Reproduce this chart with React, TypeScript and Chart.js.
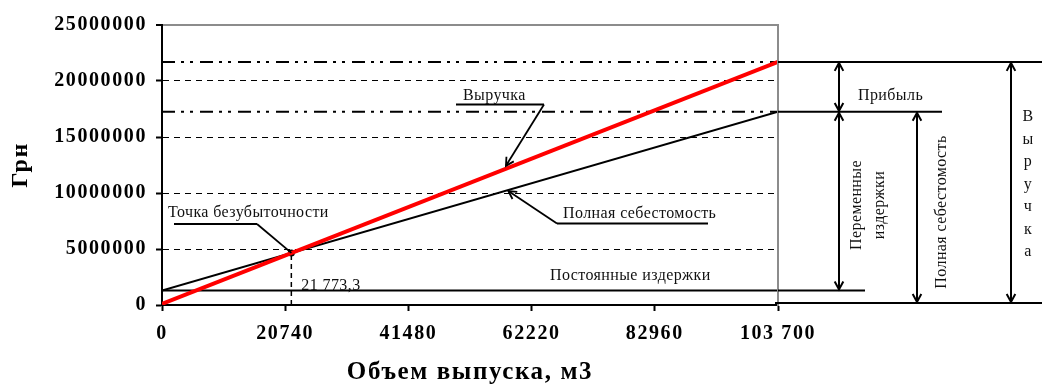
import React, { useEffect, useRef } from "react";
import { Chart, registerables } from "chart.js";

Chart.register(...registerables);

// ---- data ----
const xTicks = [0, 20740, 41480, 62220, 82960, 103700];
const xTickLabels = ["0", "20740", "41480", "62220", "82960", "103 700"];
const yTicks = [0, 5000000, 10000000, 15000000, 20000000, 25000000];
const volume = [0, 103700];
const revenue = [100000, 21700000];
const totalCost = [1300000, 17250000];
const fixedCost = [1300000, 1300000];
const breakEvenVolume = 21773.3;
const breakEvenValue = 4650000;
const breakEvenLabel = "21 773,3";

const SERIF = '"Liberation Serif", "Times New Roman", serif';

function onLine(vals: number[], xv: number) {
  const t = (xv - volume[0]) / (volume[1] - volume[0]);
  return vals[0] + (vals[1] - vals[0]) * t;
}

const annotationPlugin = {
  id: "annotations",
  beforeDraw(chart: any) {
    try { chart.ctx.letterSpacing = "1.6px"; } catch (e) {}
  },
  afterDraw(chart: any) {
    const { ctx, chartArea: a, scales } = chart;
    const xs = scales.x;
    const ys = scales.y;
    const W = chart.width;
    ctx.save();
    try { ctx.letterSpacing = "0.4px"; } catch (e) {}

    const line = (x1: number, y1: number, x2: number, y2: number) => {
      ctx.beginPath();
      ctx.moveTo(x1, y1);
      ctx.lineTo(x2, y2);
      ctx.stroke();
    };
    const head = (tx: number, ty: number, fx: number, fy: number) => {
      const ang = Math.atan2(fy - ty, fx - tx);
      const len = 9;
      const spread = 0.5;
      ctx.beginPath();
      ctx.moveTo(tx + len * Math.cos(ang + spread), ty + len * Math.sin(ang + spread));
      ctx.lineTo(tx, ty);
      ctx.lineTo(tx + len * Math.cos(ang - spread), ty + len * Math.sin(ang - spread));
      ctx.stroke();
    };
    const dbl = (x: number, y1: number, y2: number) => {
      line(x, y1 + 1, x, y2 - 1);
      head(x, y1 + 1, x, y2);
      head(x, y2 - 1, x, y1);
    };

    // gray right border of the plot
    ctx.strokeStyle = "#8c8c8c";
    ctx.lineWidth = 2;
    line(a.right, a.top - 1, a.right, a.bottom + 1);

    const yRev = ys.getPixelForValue(revenue[1]);
    const yCost = ys.getPixelForValue(totalCost[1]);
    const yFix = ys.getPixelForValue(fixedCost[1]);
    const yBase = ys.getPixelForValue(0) - 2;

    ctx.strokeStyle = "#000";
    ctx.lineWidth = 2;
    line(a.right, yRev, W, yRev);
    line(a.right, yCost, a.right + 164, yCost);
    line(a.right, yFix, a.right + 87, yFix);
    line(a.right - 3, yBase, W, yBase);

    dbl(a.right + 61, yRev, yCost);
    dbl(a.right + 61, yCost, yFix);
    dbl(a.right + 139, yCost, yBase);
    dbl(a.right + 233, yRev, yBase);

    // leaders inside plot
    ctx.lineWidth = 1.8;
    // Выручка
    const tipRx = xs.getPixelForValue(57900);
    const tipRy = ys.getPixelForValue(onLine(revenue, 57900)) - 3;
    line(456, 104.5, 544, 104.5);
    line(544, 104.5, tipRx, tipRy);
    head(tipRx, tipRy, 544, 104.5);
    // Полная себестомость
    const tipCx = xs.getPixelForValue(58300);
    const tipCy = ys.getPixelForValue(onLine(totalCost, 58300)) + 1;
    line(557, 223.5, 708, 223.5);
    line(557, 223.5, tipCx, tipCy);
    head(tipCx, tipCy, 557, 223.5);
    // Точка безубыточности
    const bx = xs.getPixelForValue(breakEvenVolume);
    const by = ys.getPixelForValue(breakEvenValue);
    line(174, 224, 257, 224);
    line(257, 224, bx, by);

    // texts
    ctx.fillStyle = "#111";
    ctx.font = `16px ${SERIF}`;
    ctx.textAlign = "left";
    ctx.textBaseline = "alphabetic";
    ctx.fillText("Выручка", 463, 100);
    ctx.fillText("Полная себестомость", 563, 218);
    ctx.fillText("Постоянные издержки", 550, 280);
    ctx.fillText("Точка безубыточности", 168, 217);
    ctx.fillText(breakEvenLabel, bx + 10, 290);
    ctx.fillText("Прибыль", 858, 100);

    const rot = (t: string, cx: number, cy: number) => {
      ctx.save();
      ctx.translate(cx, cy);
      ctx.rotate(-Math.PI / 2);
      ctx.textAlign = "center";
      ctx.textBaseline = "middle";
      ctx.fillText(t, 0, 0);
      ctx.restore();
    };
    rot("Переменные", a.right + 79, 205);
    rot("издержки", a.right + 102, 205);
    rot("Полная себестомость", a.right + 164, 212);

    ctx.textAlign = "center";
    ctx.textBaseline = "middle";
    const vert = "Выручка".split("");
    vert.forEach((ch, i) => ctx.fillText(ch, a.right + 250, 117 + i * 22.5));

    ctx.restore();
  },
};

export default function App() {
  const ref = useRef<HTMLCanvasElement | null>(null);
  useEffect(() => {
    document.body.style.margin = "0";
    const canvas = ref.current!;
    const pts = (vals: number[]) => volume.map((x, i) => ({ x, y: vals[i] }));
    const dashDot = [13, 6, 3, 6, 3, 7];
    const chart = new Chart(canvas, {
      type: "line",
      data: {
        datasets: [
          { label: "Выручка", data: pts(revenue), borderColor: "#ff0000", borderWidth: 4, pointRadius: 0 },
          { label: "Полная себестоимость", data: pts(totalCost), borderColor: "#000", borderWidth: 2, pointRadius: 0 },
          { label: "Постоянные издержки", data: pts(fixedCost), borderColor: "#000", borderWidth: 2, pointRadius: 0 },
          { label: "Уровень выручки", data: volume.map((x) => ({ x, y: revenue[1] })), borderColor: "#000", borderWidth: 2, borderDash: dashDot, pointRadius: 0 },
          { label: "Уровень себестоимости", data: volume.map((x) => ({ x, y: totalCost[1] })), borderColor: "#000", borderWidth: 2, borderDash: dashDot, pointRadius: 0 },
          { label: "ТБ линия", data: [{ x: breakEvenVolume, y: 0 }, { x: breakEvenVolume, y: breakEvenValue }], borderColor: "#000", borderWidth: 1.5, borderDash: [5, 4], pointRadius: 0 },
          { label: "ТБ", data: [{ x: breakEvenVolume, y: breakEvenValue }], showLine: false, pointRadius: 3.5, pointBackgroundColor: "#000", pointBorderWidth: 0 },
        ] as any,
      },
      options: {
        responsive: false,
        maintainAspectRatio: false,
        animation: false,
        devicePixelRatio: 1,
        events: [],
        layout: { padding: { top: 25, right: 264, left: 0, bottom: 0 } },
        plugins: { legend: { display: false }, tooltip: { enabled: false }, title: { display: false } },
        scales: {
          x: {
            type: "linear",
            min: 0,
            max: 103700,
            afterBuildTicks: (s: any) => { s.ticks = xTicks.map((v) => ({ value: v })); },
            afterFit: (s: any) => { s.height = 82; },
            ticks: {
              autoSkip: false,
              maxRotation: 0,
              padding: 11,
              color: "#000",
              font: { family: SERIF, size: 20, weight: "bold" },
              callback: (_v: any, i: number) => xTickLabels[i],
            },
            grid: { drawOnChartArea: false, drawTicks: true, tickLength: 6, tickWidth: 2, tickColor: "#000", color: "#000" },
            border: { display: true, color: "#000", width: 2 },
            title: { display: true, text: "Объем выпуска, м3", color: "#000", font: { family: SERIF, size: 25, weight: "bold" }, padding: { top: 0, bottom: -1 } },
          },
          y: {
            min: 0,
            max: 25000000,
            afterBuildTicks: (s: any) => { s.ticks = yTicks.map((v) => ({ value: v })); },
            afterFit: (s: any) => { s.width = 162; },
            ticks: {
              padding: 9,
              color: "#000",
              font: { family: SERIF, size: 20, weight: "bold" },
              callback: (v: any) => String(v),
            },
            grid: {
              color: (c: any) => (c.tick && c.tick.value === 0 ? "rgba(0,0,0,0)" : c.tick && c.tick.value === 25000000 ? "#8c8c8c" : "#000"),
              lineWidth: (c: any) => (c.tick && c.tick.value === 25000000 ? 2 : 1),
              tickColor: "#000",
              tickWidth: 2,
              tickLength: 6,
              tickBorderDash: [],
            },
            border: {
              display: true,
              color: "#000",
              width: 2,
              dash: (c: any) => (c.tick ? (c.tick.value === 25000000 ? [] : [6, 5]) : []),
            },
            title: { display: true, text: "Грн", color: "#000", font: { family: SERIF, size: 24, weight: "bold" }, padding: { top: 6, bottom: 0 } },
          },
        },
      } as any,
      plugins: [annotationPlugin],
    });
    return () => chart.destroy();
  }, []);
  return <canvas ref={ref} width={1042} height={387} style={{ display: "block" }} />;
}
